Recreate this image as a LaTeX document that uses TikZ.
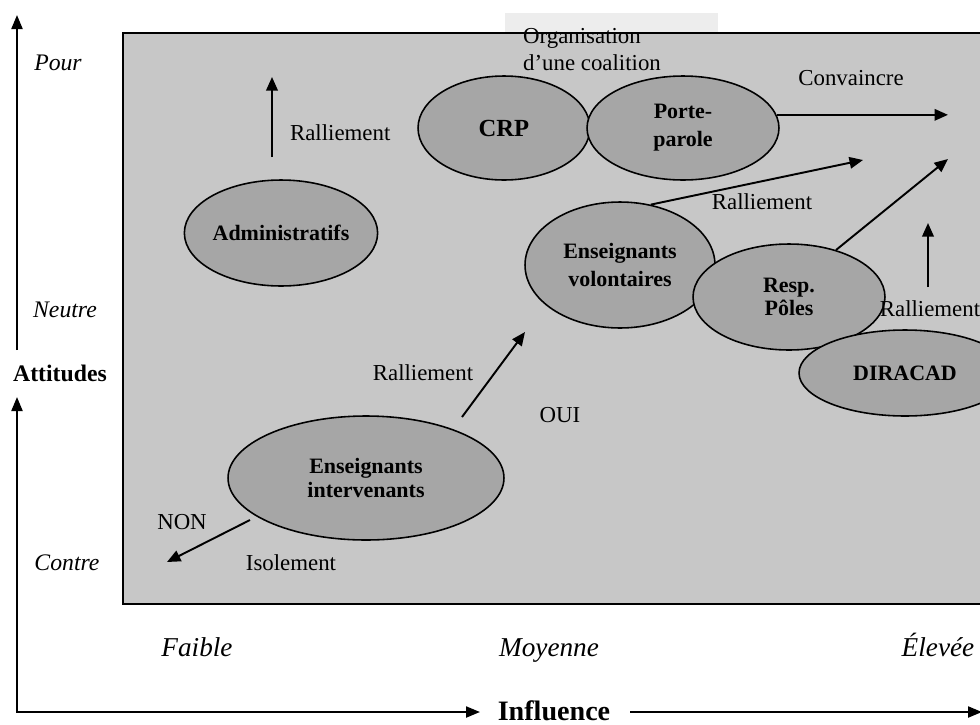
\documentclass[tikz,border=0pt]{standalone}
\usepackage{fontspec}
\setmainfont{Liberation Serif}
\usetikzlibrary{arrows.meta,shapes.geometric}

\begin{document}
\begin{tikzpicture}[x=0.02cm,y=-0.02cm,
    actor/.style={ellipse,draw=black,line width=0.9pt,fill=black!35,inner sep=0pt,
        align=center,font=\fontsize{12.5}{13.5}\selectfont\bfseries},
    txt/.style={font=\fontsize{13}{15}\selectfont,inner sep=1pt},
    level/.style={font=\fontsize{13.5}{15}\selectfont\itshape},
    grade/.style={font=\fontsize{15.5}{17}\selectfont\itshape,anchor=base},
    arr/.style={line width=1.1pt,-{Triangle[length=2.7mm,width=2.3mm]}},
    axis/.style={line width=1.2pt}]
    \useasboundingbox (0,0) rectangle (980,724);

    % Field
    \fill[black!22] (123,33) rectangle (1000,604);
    \fill[black!7] (505,13) rectangle (718,33);

    % Axes
    \coordinate (o) at (17,712);
    \coordinate (ytop) at (17,15);
    \coordinate (ymid) at (17,350);
    \coordinate (ylow) at (17,397);
    \coordinate (xend) at (480,712);
    \coordinate (xstart) at (630,712);
    \coordinate (xtip) at (982,712);
    \draw[axis,-{Triangle[length=2.8mm,width=2.2mm]}] (ymid) -- (ytop);
    \draw[axis,{Triangle[length=2.8mm,width=2.2mm]}-{Triangle[length=2.8mm,width=2.2mm]}]
        (ylow) -- (o) -- (xend);
    \draw[axis,-{Triangle[length=2.8mm,width=2.2mm]}] (xstart) -- (xtip);

    \node[font=\fontsize{13.5}{15}\selectfont\bfseries] (attitudes) at (60,373) {Attitudes};
    \node[font=\fontsize{16}{18}\selectfont\bfseries,anchor=base,inner sep=0pt]
        (influence) at (554,720) {Influence};

    \node[level] (pour) at (58,63) {Pour};
    \node[level] (neutre) at (65,310) {Neutre};
    \node[level] (contre) at (67,563) {Contre};
    \node[grade] (faible) at (197,656) {Faible};
    \node[grade] (moyenne) at (549,656) {Moyenne};
    \node[grade] (elevee) at (938,656) {Élevée};

    % Actors
    \node[actor,minimum width=3.84cm,minimum height=2.12cm] (admin) at (281,233) {Administratifs};
    \node[actor,minimum width=3.44cm,minimum height=2.08cm,
        font=\fontsize{14}{15}\selectfont\bfseries] (crp) at (504,128) {CRP};
    \node[actor,minimum width=3.84cm,minimum height=2.08cm] (porte) at (683,128) {Porte-\\[2.5pt]parole};
    \node[actor,minimum width=3.8cm,minimum height=2.52cm] (volont) at (620,265) {Enseignants\\[2.5pt]volontaires};
    \node[actor,minimum width=3.84cm,minimum height=2.12cm] (resp) at (789,297) {Resp.\\Pôles};
    \node[actor,minimum width=4.24cm,minimum height=1.72cm] (diracad) at (905,373) {DIRACAD};
    \node[actor,minimum width=5.52cm,minimum height=2.48cm] (interv) at (366,478) {Enseignants\\intervenants};

    % Labels
    \node[txt] (orga) at (582,38) {Organisation};
    \node[txt] (coal) at (592,63) {d'une coalition};
    \node[txt] (conv) at (851,78) {Convaincre};
    \node[txt,anchor=west] (rall1) at (288,133) {Ralliement};
    \node[txt] (rall2) at (762,202) {Ralliement};
    \node[txt] (rall3) at (930,309) {Ralliement};
    \node[txt] (rall4) at (423,373) {Ralliement};
    \node[txt] (oui) at (560,415) {OUI};
    \node[txt] (non) at (182,522) {NON};
    \node[txt] (isol) at (291,563) {Isolement};

    % Moves
    \coordinate (adm-s) at (272,157);
    \coordinate (adm-t) at (272,77);
    \coordinate (conv-t) at (948,117);
    \coordinate (vol-t) at (863,160);
    \coordinate (resp-t) at (948,159);
    \coordinate (up-s) at (928,287);
    \coordinate (up-t) at (928,223);
    \coordinate (int-s) at (462,417);
    \coordinate (int-t) at (525,332);
    \coordinate (non-s) at (250,520);
    \coordinate (non-t) at (167,562);
    \draw[arr] (adm-s) -- (adm-t);
    \draw[arr] (porte.8) -- (porte.8 -| conv-t);
    \draw[arr] (volont.63) -- (vol-t);
    \draw[arr] (resp.45) -- (resp-t);
    \draw[arr] (up-s) -- (up-t);
    \draw[arr] (int-s) -- (int-t);
    \draw[arr] (non-s) -- (non-t);

    % Frame
    \draw[line width=1.2pt] (1000,33) -- (123,33) -- (123,604) -- (1000,604);
\end{tikzpicture}
\end{document}
